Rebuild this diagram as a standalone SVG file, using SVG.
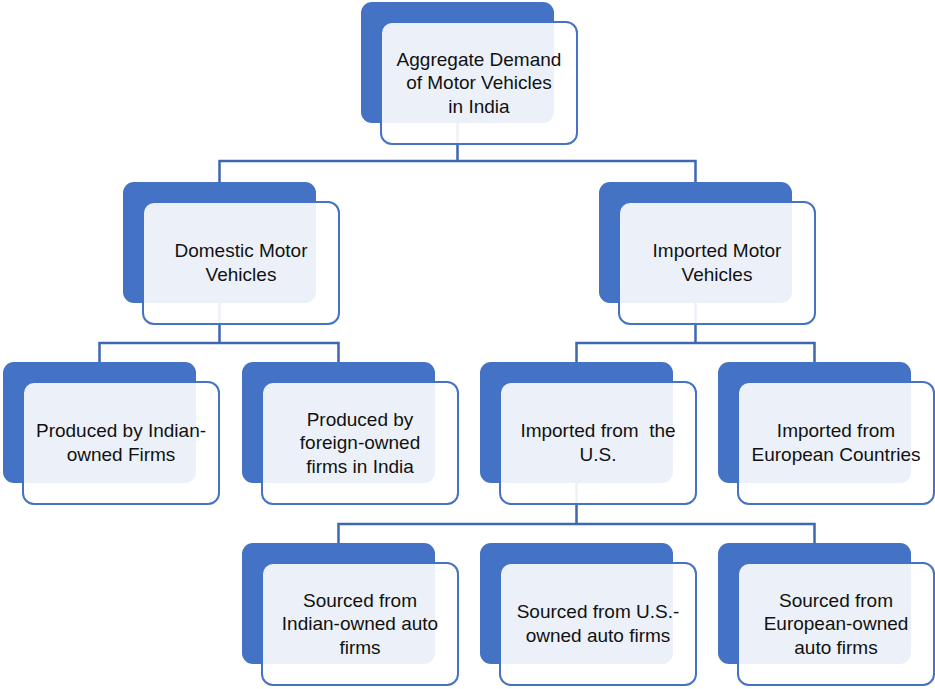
<svg xmlns="http://www.w3.org/2000/svg" width="935" height="689" viewBox="0 0 935 689">
<style>
.back{fill:#4472C4;}
.front{fill:#FFFFFF;fill-opacity:0.9;stroke:#4472C4;stroke-width:2;}
.conn{fill:none;stroke:#3F67B1;stroke-width:2.5;}
text{font-family:"Liberation Sans",Arial,sans-serif;font-size:19px;fill:#111;text-anchor:middle;white-space:pre;}
</style>
<rect width="935" height="689" fill="#FFFFFF"/>
<g id="connectors">
<path class="conn" d="M457.5 122 V161 M219.5 182 V161 H695.5 V182"/>
<path class="conn" d="M219.5 303 V343 M99.5 362 V343 H338.5 V362"/>
<path class="conn" d="M695.5 303 V343 M576.5 362 V343 H814.5 V362"/>
<path class="conn" d="M576.5 483 V524 M338.5 543 V524 H814.5 V543"/>
</g>
<g id="n-aggregate" transform="translate(361,2)">
<rect class="back" x="0" y="0" width="193" height="121" rx="11"/>
<rect class="front" x="20" y="20" width="196" height="122" rx="11"/>
<text x="118" y="63.5">Aggregate Demand</text>
<text x="118" y="87">of Motor Vehicles</text>
<text x="118" y="110.5">in India</text>
</g>
<g id="n-domestic" transform="translate(123,182)">
<rect class="back" x="0" y="0" width="193" height="121" rx="11"/>
<rect class="front" x="20" y="20" width="196" height="122" rx="11"/>
<text x="118" y="75.25">Domestic Motor</text>
<text x="118" y="98.75">Vehicles</text>
</g>
<g id="n-imported" transform="translate(599,182)">
<rect class="back" x="0" y="0" width="193" height="121" rx="11"/>
<rect class="front" x="20" y="20" width="196" height="122" rx="11"/>
<text x="118" y="75.25">Imported Motor</text>
<text x="118" y="98.75">Vehicles</text>
</g>
<g id="n-indian-firms" transform="translate(3,362)">
<rect class="back" x="0" y="0" width="193" height="121" rx="11"/>
<rect class="front" x="20" y="20" width="196" height="122" rx="11"/>
<text x="118" y="75.25">Produced by Indian-</text>
<text x="118" y="98.75">owned Firms</text>
</g>
<g id="n-foreign-firms" transform="translate(242,362)">
<rect class="back" x="0" y="0" width="193" height="121" rx="11"/>
<rect class="front" x="20" y="20" width="196" height="122" rx="11"/>
<text x="118" y="63.5">Produced by</text>
<text x="118" y="87">foreign-owned</text>
<text x="118" y="110.5">firms in India</text>
</g>
<g id="n-from-us" transform="translate(480,362)">
<rect class="back" x="0" y="0" width="193" height="121" rx="11"/>
<rect class="front" x="20" y="20" width="196" height="122" rx="11"/>
<text x="118" y="75.25">Imported from  the</text>
<text x="118" y="98.75">U.S.</text>
</g>
<g id="n-from-europe" transform="translate(718,362)">
<rect class="back" x="0" y="0" width="193" height="121" rx="11"/>
<rect class="front" x="20" y="20" width="196" height="122" rx="11"/>
<text x="118" y="75.25">Imported from</text>
<text x="118" y="98.75">European Countries</text>
</g>
<g id="n-src-indian" transform="translate(242,543)">
<rect class="back" x="0" y="0" width="193" height="121" rx="11"/>
<rect class="front" x="20" y="20" width="196" height="122" rx="11"/>
<text x="118" y="63.5">Sourced from</text>
<text x="118" y="87">Indian-owned auto</text>
<text x="118" y="110.5">firms</text>
</g>
<g id="n-src-us" transform="translate(480,543)">
<rect class="back" x="0" y="0" width="193" height="121" rx="11"/>
<rect class="front" x="20" y="20" width="196" height="122" rx="11"/>
<text x="118" y="75.25">Sourced from U.S.-</text>
<text x="118" y="98.75">owned auto firms</text>
</g>
<g id="n-src-europe" transform="translate(718,543)">
<rect class="back" x="0" y="0" width="193" height="121" rx="11"/>
<rect class="front" x="20" y="20" width="196" height="122" rx="11"/>
<text x="118" y="63.5">Sourced from</text>
<text x="118" y="87">European-owned</text>
<text x="118" y="110.5">auto firms</text>
</g>
</svg>
